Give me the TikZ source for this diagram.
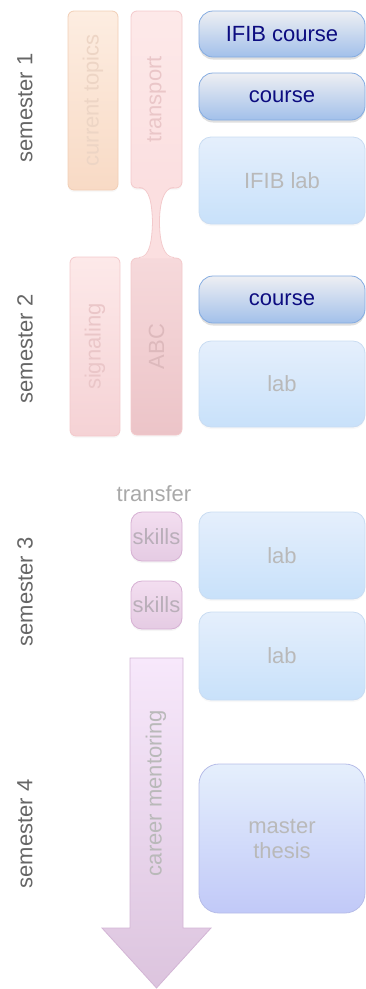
\documentclass[tikz,border=0pt]{standalone}
\usepackage{fontspec}
\setmainfont{Liberation Sans}
\usetikzlibrary{shadows}

\definecolor{navytext}{HTML}{0C0C80}
\definecolor{coursetop}{HTML}{EEEFF3}
\definecolor{coursebot}{HTML}{A2C0EA}
\definecolor{coursedraw}{HTML}{84ABE0}
\definecolor{labtop}{HTML}{E5EFFC}
\definecolor{labbot}{HTML}{C8E1FA}
\definecolor{labdraw}{HTML}{C9DCF2}
\definecolor{thesisbot}{HTML}{C1C9F8}
\definecolor{thesisdraw}{HTML}{B7BDE8}
\definecolor{topictop}{HTML}{FDEDE1}
\definecolor{topicbot}{HTML}{F8DAC5}
\definecolor{topicdraw}{HTML}{F1CEB6}
\definecolor{topictext}{HTML}{EDD5C5}
\definecolor{transptop}{HTML}{FDE9E9}
\definecolor{transpbot}{HTML}{FBDFE0}
\definecolor{pinkdraw}{HTML}{F3C9CB}
\definecolor{pinktext}{HTML}{EAC6C8}
\definecolor{signalbot}{HTML}{F5D2D5}
\definecolor{abctop}{HTML}{F6D9DB}
\definecolor{abcbot}{HTML}{ECC4C8}
\definecolor{abctext}{HTML}{DDB9BC}
\definecolor{skilltop}{HTML}{F3DEF0}
\definecolor{skillbot}{HTML}{E5CBE3}
\definecolor{skilldraw}{HTML}{D6B0D3}
\definecolor{skilltext}{HTML}{B9AEB9}
\definecolor{mentortop}{HTML}{F7E8FB}
\definecolor{mentorbot}{HTML}{DCC4DE}
\definecolor{mentordraw}{HTML}{D3B5D5}
\definecolor{fadetext}{HTML}{B9B9B9}
\definecolor{semtext}{HTML}{666666}
\definecolor{transfertext}{HTML}{A9A9A9}

\tikzset{
	every node/.style={font=\fontsize{22}{25}\selectfont, inner sep=0pt},
	box/.style={draw, rounded corners=12pt, line width=0.8pt, minimum width=166},
	coursebox/.style={box, rounded corners=14pt, draw=coursedraw, top color=coursetop, bottom color=coursebot, text=navytext,
		drop shadow={opacity=0.25, shadow xshift=0pt, shadow yshift=-2.5pt}},
	labbox/.style={box, draw=labdraw, top color=labtop, bottom color=labbot, text=fadetext,
		drop shadow={opacity=0.06, shadow xshift=0pt, shadow yshift=-2pt}},
	thesisbox/.style={box, rounded corners=20pt, draw=thesisdraw, top color=labtop, bottom color=thesisbot, text=fadetext},
	bar/.style={draw, rounded corners=6pt, line width=0.8pt,
		drop shadow={opacity=0.06, shadow xshift=0pt, shadow yshift=-2pt}},
	skillbox/.style={draw=skilldraw, rounded corners=11pt, line width=0.8pt, top color=skilltop, bottom color=skillbot,
		text=skilltext, minimum width=51, drop shadow={opacity=0.08, shadow xshift=0pt, shadow yshift=-2pt}},
	vtext/.style={rotate=90},
	semester/.style={rotate=90, text=semtext}
}

\begin{document}
\begin{tikzpicture}[x=1pt, y=-1pt]
		%%%%% START %%%%%
		\useasboundingbox (0, 0) rectangle (366, 989);
		
		% semesters
		\node[semester] (sem1) at (25, 108) {semester 1};
		\node[semester] (sem2) at (25, 349) {semester 2};
		\node[semester] (sem3) at (25, 592) {semester 3};
		\node[semester] (sem4) at (25, 834) {semester 4};
		
		% topic bars
		\node[bar, draw=topicdraw, top color=topictop, bottom color=topicbot, minimum width=50, minimum height=179] (topics) at (93, 100.5) {};
		\node[vtext, text=topictext] (topicstxt) at (topics) {current topics};
		\node[bar, draw=pinkdraw, top color=transptop, bottom color=transpbot, minimum width=51, minimum height=177] (transport) at (156.5, 99.5) {};
		\node[vtext, text=pinktext] (transporttxt) at (transport) {transport};
		\node[bar, draw=pinkdraw, top color=transptop, bottom color=signalbot, minimum width=50, minimum height=179] (signaling) at (95, 346.5) {};
		\node[vtext, text=pinktext] (signalingtxt) at (signaling) {signaling};
		\node[bar, draw=pinkdraw, top color=abctop, bottom color=abcbot, minimum width=51, minimum height=177] (abc) at (156.5, 346.5) {};
		\node[vtext, text=abctext] (abctxt) at (abc) {ABC};
		
		% neck between transport and ABC
		\fill[transpbot] (139, 186.5) .. controls (150, 187) and (152, 205) .. (152.5, 222)
			.. controls (152, 240) and (150, 258.5) .. (139, 258.5) -- (174, 258.5)
			.. controls (163, 258.5) and (159.5, 240) .. (159.5, 222)
			.. controls (159.5, 205) and (163, 187) .. (174, 186.5) -- cycle;
		\draw[pinkdraw, line width=0.8pt] (139, 187.5) .. controls (150, 187.5) and (152, 205) .. (152.5, 222)
			.. controls (152, 240) and (150, 257.5) .. (139, 257.5);
		\draw[pinkdraw, line width=0.8pt] (174, 187.5) .. controls (163, 187.5) and (159.5, 205) .. (159.5, 222)
			.. controls (159.5, 240) and (163, 257.5) .. (174, 257.5);
		
		% courses and labs
		\node[coursebox, minimum height=46] (ifibcourse) at (282, 34) {IFIB course};
		\node[coursebox, minimum height=47] (course1) at (282, 96.5) {course};
		\node[labbox, minimum height=87] (ifiblab) at (282, 180.5) {IFIB lab};
		\node[coursebox, minimum height=47] (course2) at (282, 299.5) {course};
		\node[labbox, minimum height=86] (lab2) at (282, 384) {lab};
		\node[labbox, minimum height=87] (lab3) at (282, 555.5) {lab};
		\node[labbox, minimum height=88] (lab4) at (282, 656) {lab};
		\node[thesisbox, minimum height=149, align=center] (thesis) at (282, 838.5) {master\\thesis};
		
		% transfer skills
		\node[text=transfertext] (transfer) at (154, 494) {transfer};
		\node[skillbox, minimum height=49] (skills1) at (156.5, 536.5) {skills};
		\node[skillbox, minimum height=48] (skills2) at (156.5, 605) {skills};
		
		% career mentoring arrow
		\draw[draw=mentordraw, line width=0.8pt, top color=mentortop, bottom color=mentorbot]
			(130, 658) -- (183, 658) -- (183, 928) -- (211, 928) -- (156.5, 988) -- (102, 928) -- (130, 928) -- cycle;
		\node[vtext, text=fadetext] (mentoring) at (156, 793) {career mentoring};
		
		%%%%% END %%%%%
	\end{tikzpicture}
\end{document}
